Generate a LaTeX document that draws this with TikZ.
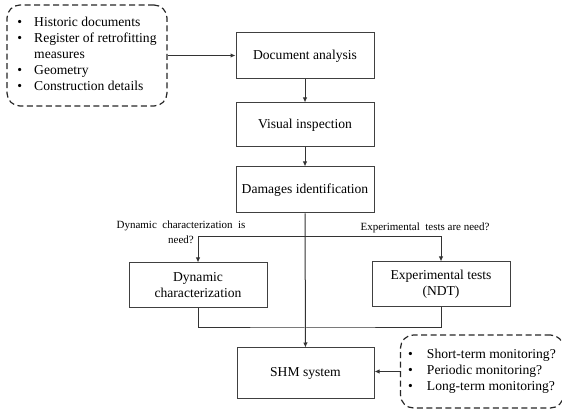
\documentclass[tikz,border=0pt]{standalone}
\usepackage{fontspec}
\setmainfont{Liberation Serif}
\usetikzlibrary{arrows.meta}
\begin{document}
\begin{tikzpicture}[x=1pt, y=-1pt, every node/.style={font=\fontsize{13.6}{16}\selectfont},
  box/.style={draw=black!75,line width=1pt,minimum width=138pt,minimum height=45pt,align=center,inner sep=2pt},
  listbox/.style={draw=black!85,line width=1.2pt,dash pattern=on 6pt off 3.5pt,rounded corners=13pt,inner sep=0pt},
  lbl/.style={font=\fontsize{11}{15}\selectfont,align=center,inner sep=0pt},
  link/.style={draw=black!80,line width=1pt},
  arr/.style={link,-{Latex[length=5pt,width=4.5pt]}}]
\useasboundingbox (0,0) rectangle (562,411);
\node[box,minimum height=46pt] (doc) at (305,56) {Document analysis};
\node[box,minimum height=44pt] (vis) at (305,125) {Visual inspection};
\node[box,minimum height=46pt] (dam) at (305,190) {Damages identification};
\node[box] (dyn) at (198,285.5) {Dynamic\\characterization};
\node[box] (exp) at (441,284.5) {Experimental tests\\(NDT)};
\node[box,minimum width=137pt,minimum height=50pt] (shm) at (305.5,373) {SHM system};
\node[listbox,minimum width=160pt,minimum height=101pt] (src) at (87,55.5)
  {\begin{tabular}{@{}l@{\hspace{12pt}}l@{}}
   \textbullet & Historic documents\\
   \textbullet & Register of retrofitting\\
               & measures\\
   \textbullet & Geometry\\
   \textbullet & Construction details
   \end{tabular}};
\node[listbox,minimum width=163pt,minimum height=73pt] (mon) at (482,371.5)
  {\begin{tabular}{@{}l@{\hspace{14pt}}l@{}}
   \textbullet & Short-term monitoring?\\
   \textbullet & Periodic monitoring?\\
   \textbullet & Long-term monitoring?
   \end{tabular}};
\node[lbl] (lbldyn) at (181,232) {Dynamic\ \ characterization\ \ is\\need?};
\node[lbl] (lblexp) at (425,228) {Experimental\ \ tests are need?};
% branch and join points
\coordinate (br) at (305,237);
\coordinate (jn) at (305,328);
\draw[arr] (src.east) -- (src.east -| doc.west);
\draw[arr] (doc) -- (vis);
\draw[arr] (vis) -- (dam);
\draw[arr] (dam) -- (shm);
\draw[arr] (br) -| (dyn.north);
\draw[arr] (br) -| (exp.north);
\draw[link] (dyn.south) |- (jn) -| (exp.south);
\draw[arr] (mon.west) -- (mon.west -| shm.east);
\end{tikzpicture}
\end{document}
